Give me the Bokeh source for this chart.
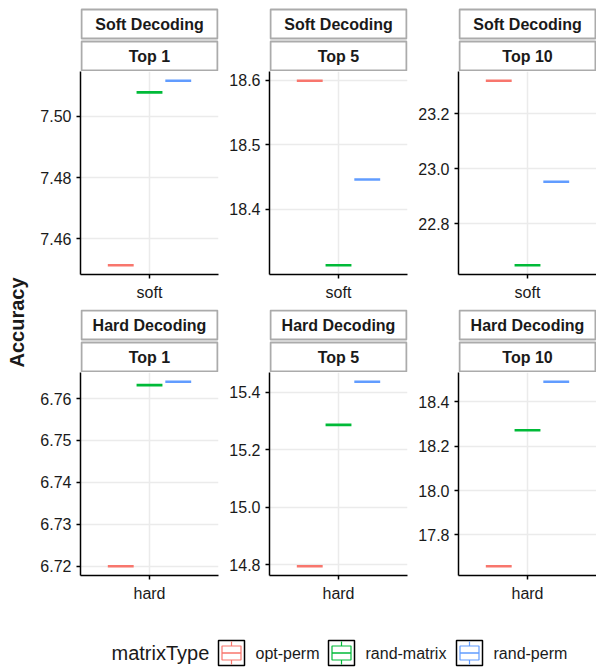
import numpy as np
from bokeh.plotting import figure
from bokeh.layouts import row, column
from bokeh.models import Range1d, FactorRange, FixedTicker, PrintfTickFormatter, ColumnDataSource
from bokeh.transform import dodge
from bokeh.core.properties import value
from bokeh.embed import file_html
from bokeh.resources import INLINE

# ---------------- data ----------------
matrix_types = ["opt-perm", "rand-matrix", "rand-perm"]
colors = ["#F8766D", "#00BA38", "#619CFF"]
decoding_titles = ["Soft Decoding", "Hard Decoding"]
decoding_cats = ["soft", "hard"]
top_titles = ["Top 1", "Top 5", "Top 10"]

soft_top1 = [7.4514, 7.5078, 7.5116]
soft_top5 = [18.599, 18.313, 18.446]
soft_top10 = [23.321, 22.649, 22.953]
hard_top1 = [6.7200, 6.7632, 6.7640]
hard_top5 = [14.795, 15.287, 15.437]
hard_top10 = [17.659, 18.272, 18.491]

ticks_soft_top1 = [7.46, 7.48, 7.50]
ticks_soft_top5 = [18.4, 18.5, 18.6]
ticks_soft_top10 = [22.8, 23.0, 23.2]
ticks_hard_top1 = [6.72, 6.73, 6.74, 6.75, 6.76]
ticks_hard_top5 = [14.8, 15.0, 15.2, 15.4]
ticks_hard_top10 = [17.8, 18.0, 18.2, 18.4]

values = [[soft_top1, soft_top5, soft_top10], [hard_top1, hard_top5, hard_top10]]
ticks = [[ticks_soft_top1, ticks_soft_top5, ticks_soft_top10],
         [ticks_hard_top1, ticks_hard_top5, ticks_hard_top10]]
formats = [["%.2f", "%.1f", "%.1f"], ["%.2f", "%.1f", "%.1f"]]

# ---------------- layout constants ----------------
FONT = "Liberation Sans"
FW = 138              # frame width
FH = 203              # frame height
YLAB_W = 30
LB = [50, 49, 49]     # left borders
RB = [2, 2, 0]        # right borders
STRIP_H = [71, 63]
PANEL_BOTTOM = [35, 50]
dodge_offsets = [-0.25, 0.0, 0.25]
box_w = 0.225
TXT = "#1a1a1a"


def strip_fig(r, c, title1, title2):
    h = STRIP_H[r]
    p = figure(width=LB[c] + FW + RB[c], height=h,
               x_range=Range1d(0, FW), y_range=Range1d(0, h),
               x_axis_type=None, y_axis_type=None,
               min_border_left=LB[c], min_border_right=RB[c],
               min_border_top=0, min_border_bottom=0,
               output_backend="svg", toolbar_location=None)
    p.outline_line_color = None
    p.quad(left=[1, 1], right=[FW - 1, FW - 1], bottom=[33, 1], top=[62, 30],
           fill_color="white", line_color="#ababab", line_width=2)
    p.text(x=[FW / 2, FW / 2], y=[47.5, 15.5], text=[title1, title2],
           text_font=value(FONT), text_font_style="bold", text_font_size="16px",
           text_align="center", text_baseline="middle", text_color=TXT)
    return p


def panel_fig(r, c):
    vals = values[r][c]
    lo, hi = min(vals), max(vals)
    pad = 0.05 * (hi - lo)
    cat = decoding_cats[r]
    p = figure(width=LB[c] + FW + RB[c], height=FH + PANEL_BOTTOM[r],
               x_range=FactorRange(factors=[cat], range_padding=0.2),
               y_range=Range1d(lo - pad, hi + pad),
               min_border_left=LB[c], min_border_right=RB[c],
               min_border_top=0, min_border_bottom=PANEL_BOTTOM[r],
               output_backend="svg", toolbar_location=None)
    p.outline_line_color = None
    for k, mt in enumerate(matrix_types):
        src = ColumnDataSource(dict(cat=[cat], y=[vals[k]]))
        off = dodge_offsets[k]
        p.segment(x0=dodge("cat", off - box_w / 2, range=p.x_range),
                  x1=dodge("cat", off + box_w / 2, range=p.x_range),
                  y0="y", y1="y", source=src,
                  line_color=colors[k], line_width=2.6, line_cap="butt")
    tk = FixedTicker(ticks=ticks[r][c])
    p.yaxis.ticker = tk
    p.ygrid.ticker = tk
    p.yaxis.formatter = PrintfTickFormatter(format=formats[r][c])
    for ax in (p.xaxis, p.yaxis):
        ax.axis_line_color = "black"
        ax.axis_line_width = 1.5
        ax.major_tick_line_color = "black"
        ax.major_tick_line_width = 1.5
        ax.major_tick_out = 4
        ax.major_tick_in = 0
        ax.minor_tick_line_color = None
        ax.major_label_text_font = FONT
        ax.major_label_text_font_size = "16px"
        ax.major_label_text_color = TXT
        ax.major_label_standoff = 5
    p.xgrid.grid_line_color = "#ebebeb"
    p.ygrid.grid_line_color = "#ebebeb"
    p.xgrid.grid_line_width = 1.5
    p.ygrid.grid_line_width = 1.5
    return p


cols = []
for c in range(3):
    cols.append(column(
        strip_fig(0, c, decoding_titles[0], top_titles[c]),
        panel_fig(0, c),
        strip_fig(1, c, decoding_titles[1], top_titles[c]),
        panel_fig(1, c),
        spacing=0))

total_h = sum(STRIP_H) + 2 * FH + sum(PANEL_BOTTOM)

ylab = figure(width=YLAB_W, height=total_h, x_range=Range1d(0, YLAB_W), y_range=Range1d(0, total_h),
              x_axis_type=None, y_axis_type=None, min_border=0,
              output_backend="svg", toolbar_location=None)
ylab.outline_line_color = None
ylab.text(x=[16.5], y=[total_h - 322], text=["Accuracy"], angle=np.pi / 2,
          text_font=value(FONT), text_font_style="bold", text_font_size="20px",
          text_align="center", text_baseline="middle", text_color=TXT)

# ---------------- legend ----------------
LEG_W, LEG_H = 596, 44
leg = figure(width=LEG_W, height=LEG_H, x_range=Range1d(0, LEG_W), y_range=Range1d(0, LEG_H),
             x_axis_type=None, y_axis_type=None, min_border=0,
             output_backend="svg", toolbar_location=None)
leg.outline_line_color = None
cy = 16.5
leg.text(x=[111], y=[cy], text=["matrixType"], text_font=value(FONT),
         text_font_size="20px", text_align="left", text_baseline="middle", text_color=TXT)
label_widths = [63, 81, 74]
kx = 218
for k, mt in enumerate(matrix_types):
    cx = kx + 13
    leg.rect(x=[cx], y=[cy], width=26, height=25, fill_color="white",
             line_color="black", line_width=1.5)
    leg.segment(x0=[cx], x1=[cx], y0=[cy - 11.5], y1=[cy + 11.5],
                line_color=colors[k], line_width=1.2)
    leg.rect(x=[cx], y=[cy], width=19, height=14, fill_color="white",
             line_color=colors[k], line_width=1.2)
    leg.segment(x0=[cx - 9.5], x1=[cx + 9.5], y0=[cy], y1=[cy],
                line_color=colors[k], line_width=1.6)
    lx = kx + 26 + 11
    leg.text(x=[lx], y=[cy], text=[mt], text_font=value(FONT),
             text_font_size="16px", text_align="left", text_baseline="middle", text_color=TXT)
    kx = lx + label_widths[k] + 10

layout = column(row(ylab, *cols, spacing=0), leg, spacing=0)

open("out.html", "w").write(file_html(layout, INLINE))
